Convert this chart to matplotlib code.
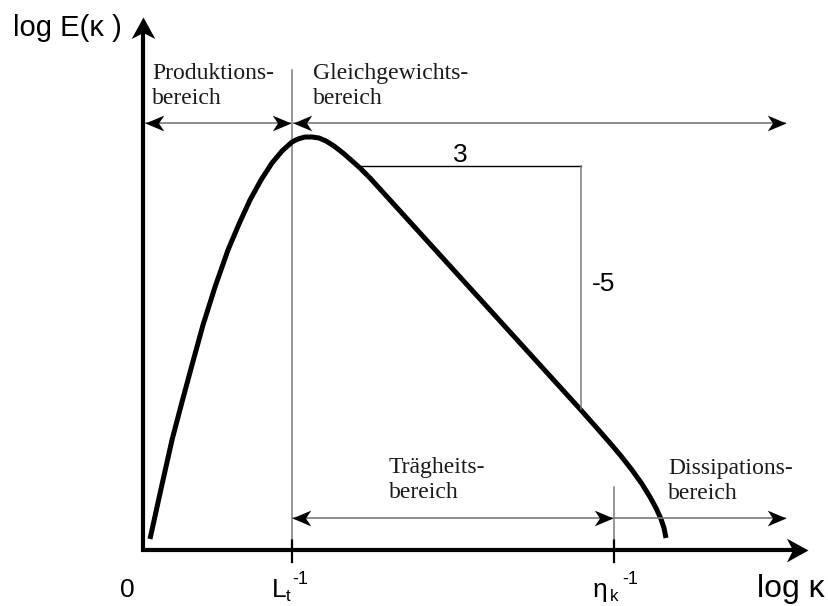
import numpy as np
import matplotlib
matplotlib.use("Agg")
import matplotlib.pyplot as plt
from matplotlib.path import Path
from matplotlib.transforms import Affine2D

# energy spectrum sketch, drawn in a 829 x 606 canvas (y grows downwards)
log_k = [150, 161, 172, 182, 192, 203, 215, 228, 239, 250, 261, 272, 282, 292,
         298, 305, 312, 319, 326, 334, 343, 351, 360, 370, 380, 400, 420, 440,
         460, 480, 500, 520, 540, 560, 580, 596, 610, 621, 632, 642, 650, 656,
         661, 664, 666]
log_E = [539, 489, 440, 402, 365, 325, 287, 250, 224, 200, 180, 163, 151, 142,
         139, 137, 137, 138, 141, 146, 153, 160, 168, 178, 189, 211, 233, 255,
         277, 299, 321, 343, 365, 387, 409, 427, 443, 456, 470, 484, 497, 508,
         519, 528, 538]

k_origin = 143      # log k = 0 / y axis
k_L = 292           # L_t^-1
k_eta = 614         # eta_k^-1
k_end = 786         # end of range arrows
E_base = 550        # x axis
slope_run = [358, 581]
slope_rise = [166, 409]

sans = "Liberation Sans"
serif = "Liberation Serif"
gray = "#7a7a7a"


def head(width):
    # stealth-shaped arrow head, tip at the origin, pointing right
    verts = [(0, 0), (-1, width), (-0.72, 0), (-1, -width), (0, 0)]
    codes = [Path.MOVETO, Path.LINETO, Path.LINETO, Path.LINETO, Path.CLOSEPOLY]
    return Path(verts, codes)


def rotated(p, deg):
    return p.transformed(Affine2D().rotate_deg(deg))


small_head = head(0.42)
big_head = head(0.55)

fig = plt.figure(figsize=(8.29, 6.06), dpi=100)
ax = fig.add_axes([0, 0, 1, 1])
ax.set_xlim(0, 829)
ax.set_ylim(606, 0)
ax.axis("off")


def range_arrow(x0, x1, y, left=True, right=True):
    ax.plot([x0, x1], [y, y], color=gray, lw=1.2, solid_capstyle="butt")
    if left:
        ax.plot(x0, y, marker=rotated(small_head, 180), ms=27, color="black", mew=0)
    if right:
        ax.plot(x1, y, marker=small_head, ms=27, color="black", mew=0)


# axes
ax.plot([k_origin, k_origin], [E_base + 2, 30], color="black", lw=3, solid_capstyle="butt")
ax.plot([k_origin - 2, 795], [E_base, E_base], color="black", lw=3, solid_capstyle="butt")
ax.plot(k_origin, 17, marker=rotated(big_head, 90), ms=31, color="black", mew=0)
ax.plot(808, E_base, marker=big_head, ms=31, color="black", mew=0)

# ticks
for k in [k_L, k_eta]:
    ax.plot([k, k], [540, 562], color="black", lw=1.6)

# range boundaries
ax.plot([k_L, k_L], [70, 539], color=gray, lw=1.1)
ax.plot([k_eta, k_eta], [487, 539], color=gray, lw=1.1)

# spectrum
ax.plot(log_k, log_E, color="black", lw=3.6, solid_capstyle="butt",
        solid_joinstyle="round")

# -5/3 slope triangle
ax.plot(slope_run, [slope_rise[0], slope_rise[0]], color="black", lw=1.0)
ax.plot([slope_run[1], slope_run[1]], slope_rise, color=gray, lw=1.1)
ax.text(460, 162, "3", fontsize=19, family=sans, ha="center", va="baseline")
ax.text(592, 291, "-5", fontsize=19, family=sans, ha="left", va="baseline")

# range arrows
range_arrow(k_origin + 2, k_L - 1, 123)
range_arrow(k_L + 1, k_end, 123)
range_arrow(k_L, k_eta - 1, 518)
range_arrow(k_eta, k_end, 518, left=False)

regions = [
    (152, 79, "Produktions-", "bereich"),
    (313, 79, "Gleichgewichts-", "bereich"),
    (389, 473, "Trägheits-", "bereich"),
    (668, 474, "Dissipations-", "bereich"),
]
for x, y, l1, l2 in regions:
    ax.text(x, y, l1, fontsize=17, family=serif, color="#1a1a1a", va="baseline")
    ax.text(x, y + 25, l2, fontsize=17, family=serif, color="#1a1a1a", va="baseline")

# axis labels
ax.text(13, 36, "log E(κ )", fontsize=21, family=sans, va="baseline")
ax.text(757, 597, "log κ", fontsize=23, family=sans, va="baseline")
ax.text(127, 597, "0", fontsize=19, family=sans, ha="center", va="baseline")

ax.text(272, 597, "L", fontsize=19, family=sans, va="baseline")
ax.text(286, 601, "t", fontsize=12, family=sans, va="baseline")
ax.text(292, 584, "-1", fontsize=13, family=sans, va="baseline")

ax.text(593, 597, "η", fontsize=19, family=sans, va="baseline")
ax.text(610, 601, "k", fontsize=12, family=sans, va="baseline")
ax.text(622, 584, "-1", fontsize=13, family=sans, va="baseline")

fig.savefig("out.png", dpi=100)
